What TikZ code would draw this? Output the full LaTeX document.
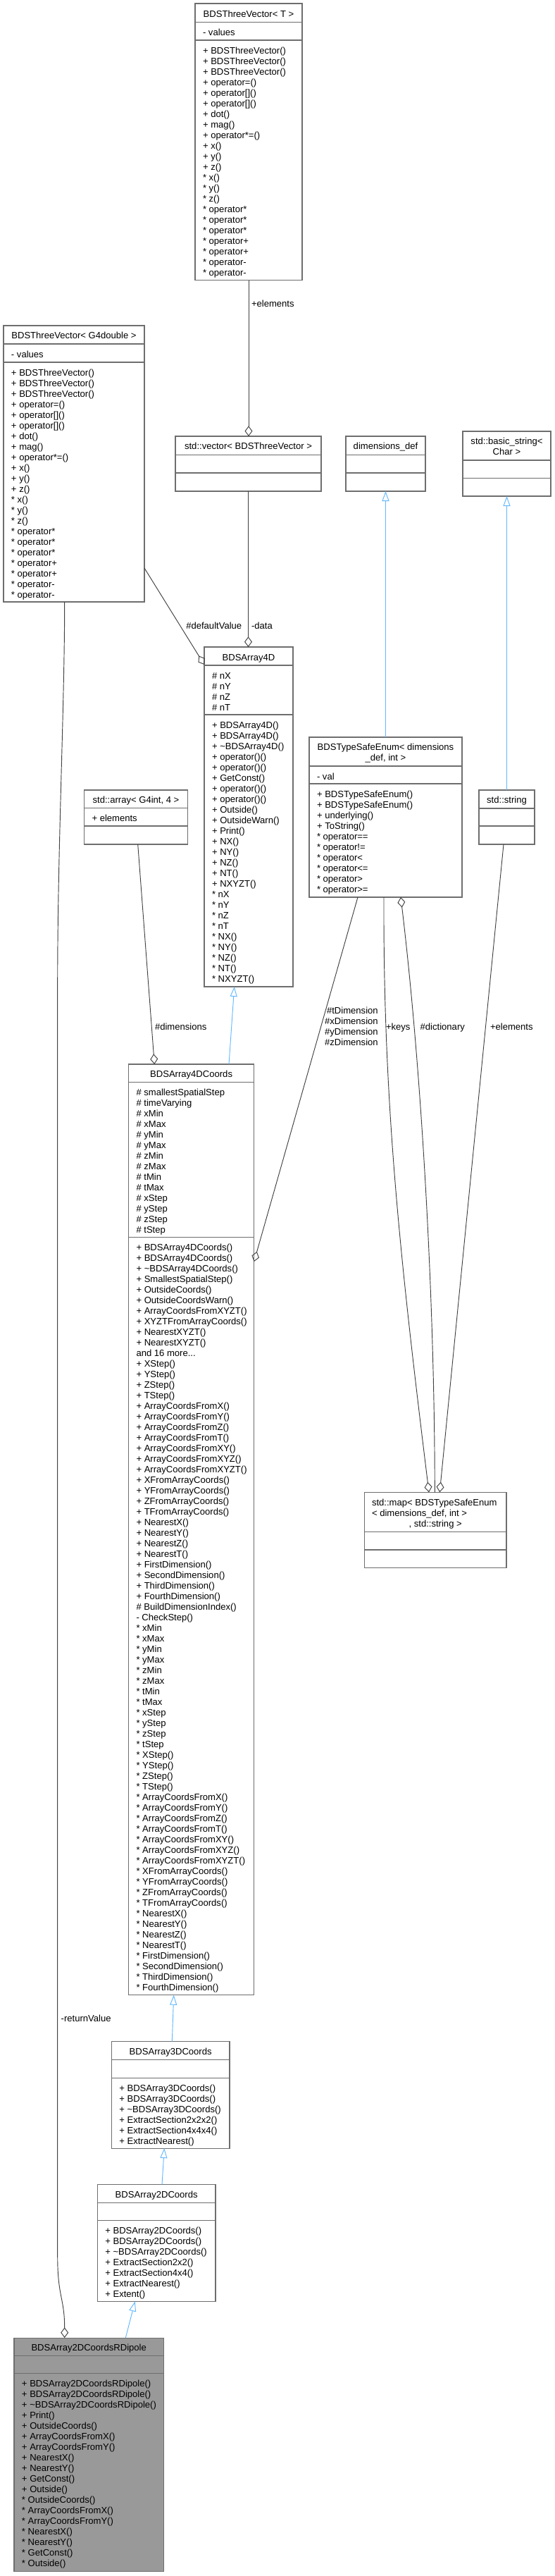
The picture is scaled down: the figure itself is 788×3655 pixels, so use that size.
\documentclass[tikz,border=0pt]{standalone}
\usepackage{fontspec}
\setmainfont{Liberation Sans}
\usetikzlibrary{arrows.meta,calc,fit}
\definecolor{boxgray}{HTML}{6E6E6E}
\definecolor{edgegray}{HTML}{404040}
\definecolor{inhblue}{HTML}{63B8FF}
\definecolor{leafgray}{HTML}{999999}
\newcommand\threedots{...}
\tikzset{
  cls/.style={draw=boxgray, line width=0.8pt, inner sep=0pt, outer sep=0pt},
  sepline/.style={draw=boxgray, line width=0.8pt},
  txt/.style={inner sep=0pt, outer sep=0pt, font=\fontsize{9.8}{11.25}\selectfont},
  agg/.style={draw=edgegray, line width=0.7pt, -{Diamond[open, length=11pt, width=8.2pt]}},
  inh/.style={draw=inhblue, line width=0.7pt, -{Triangle[open, length=10.5pt, width=7.5pt]}},
}
% #1 fill, #2 name, #3 x1, #4 x2, #5 top, #6 sep1, #7 sep2, #8 bottom
\newcommand\umlbox[8][white]{%
  \coordinate (#2-a) at (#3,#5);
  \coordinate (#2-b) at (#4,#8);
  \node[cls, fill=#1, fit=(#2-a)(#2-b)] (#2) {};
  \draw[sepline] (#3,#6) -- (#4,#6);
  \draw[sepline] (#3,#7) -- (#4,#7);
}
% #1 prefix, #2 x, #3 first baseline, #4 list
\newcommand\umllines[4]{%
  \foreach \mytext [count=\i from 0] in {#4} {%
    \node[txt, anchor=base west] (#1-\i) at (#2, #3+15*\i) {\mytext};
  }%
}
\begin{document}
\begin{tikzpicture}[x=0.75pt, y=-0.75pt]
\path[use as bounding box, fill=white] (0,0) rectangle (788,3655);

% ---------- BDSThreeVector< T >
\umlbox{TV}{277}{429}{5}{31.5}{57}{397.5}
\node[txt, anchor=base] (TV-t) at (353,24) {BDSThreeVector< T >};
\umllines{TV-a}{288}{50.5}{- values}
\umllines{TV-m}{288}{76}{+ BDSThreeVector(), + BDSThreeVector(), + BDSThreeVector(), + operator=(), + operator[](), + operator[](), + dot(), + mag(), + operator*=(), + x(), + y(), + z(), * x(), * y(), * z(), * operator*, * operator*, * operator*, * operator+, * operator+, * operator-, * operator-}

% ---------- BDSThreeVector< G4double >
\umlbox{TVG}{5}{205}{462}{488}{514}{854}
\node[txt, anchor=base] (TVG-t) at (105,480.8) {BDSThreeVector< G4double >};
\umllines{TVG-a}{16}{507}{- values}
\umllines{TVG-m}{16}{533}{+ BDSThreeVector(), + BDSThreeVector(), + BDSThreeVector(), + operator=(), + operator[](), + operator[](), + dot(), + mag(), + operator*=(), + x(), + y(), + z(), * x(), * y(), * z(), * operator*, * operator*, * operator*, * operator+, * operator+, * operator-, * operator-}

% ---------- std::vector< BDSThreeVector >
\umlbox{SV}{249}{456}{619}{645.5}{671}{697}
\node[txt, anchor=base] (SV-t) at (352.5,637.8) {std::vector< BDSThreeVector >};

% ---------- dimensions_def
\umlbox{DD}{491}{604}{619}{645.5}{671}{697}
\node[txt, anchor=base] (DD-t) at (547.5,637.8) {dimensions\_def};

% ---------- std::basic_string< Char >
\umlbox{BS}{657}{782}{612}{653}{678.5}{704}
\node[txt, anchor=base] (BS-t1) at (719.5,630.4) {std::basic\_string<};
\node[txt, anchor=base] (BS-t2) at (719.5,645.4) {Char >};

% ---------- BDSArray4D
\umlbox{A4}{290}{416}{918}{944}{1014}{1400}
\node[txt, anchor=base] (A4-t) at (353,937) {BDSArray4D};
\umllines{A4-a}{301}{963}{\# nX, \# nY, \# nZ, \# nT}
\umllines{A4-m}{301}{1033}{+ BDSArray4D(), + BDSArray4D(), + \textasciitilde BDSArray4D(), + operator()(), + operator()(), + GetConst(), + operator()(), + operator()(), + Outside(), + OutsideWarn(), + Print(), + NX(), + NY(), + NZ(), + NT(), + NXYZT(), * nX, * nY, * nZ, * nT, * NX(), * NY(), * NZ(), * NT(), * NXYZT()}

% ---------- std::array< G4int, 4 >
\umlbox{SA}{119.5}{266.5}{1121}{1146.5}{1172}{1198}
\node[txt, anchor=base] (SA-t) at (193,1139.8) {std::array< G4int, 4 >};
\node[txt, anchor=base west] (SA-a) at (130.5,1165.5) {+ elements};

% ---------- BDSTypeSafeEnum< dimensions_def, int >
\umlbox{TSE}{439}{656}{1046}{1087}{1112}{1273}
\node[txt, anchor=base] (TSE-t1) at (547.5,1064.7) {BDSTypeSafeEnum< dimensions};
\node[txt, anchor=base] (TSE-t2) at (547.5,1079.7) {\_def, int >};
\umllines{TSE-a}{450}{1106}{- val}
\umllines{TSE-m}{450}{1131}{+ BDSTypeSafeEnum(), + BDSTypeSafeEnum(), + underlying(), + ToString(), * operator==, * operator!=, * operator<, * operator<=, * operator>, * operator>=}

% ---------- std::string
\umlbox{SS}{680}{759}{1121}{1147}{1172}{1198}
\node[txt, anchor=base] (SS-t) at (719.5,1139.8) {std::string};

% ---------- BDSArray4DCoords
\umlbox{A4C}{182.5}{360.7}{1510}{1535.7}{1755.7}{2830.7}
\node[txt, anchor=base] (A4C-t) at (271.6,1528.5) {BDSArray4DCoords};
\umllines{A4C-a}{193.5}{1554.7}{\# smallestSpatialStep, \# timeVarying, \# xMin, \# xMax, \# yMin, \# yMax, \# zMin, \# zMax, \# tMin, \# tMax, \# xStep, \# yStep, \# zStep, \# tStep}
\umllines{A4C-m}{193.5}{1774.7}{+ BDSArray4DCoords(), + BDSArray4DCoords(), + \textasciitilde BDSArray4DCoords(), + SmallestSpatialStep(), + OutsideCoords(), + OutsideCoordsWarn(), + ArrayCoordsFromXYZT(), + XYZTFromArrayCoords(), + NearestXYZT(), + NearestXYZT(), and 16 more\threedots, + XStep(), + YStep(), + ZStep(), + TStep(), + ArrayCoordsFromX(), + ArrayCoordsFromY(), + ArrayCoordsFromZ(), + ArrayCoordsFromT(), + ArrayCoordsFromXY(), + ArrayCoordsFromXYZ(), + ArrayCoordsFromXYZT(), + XFromArrayCoords(), + YFromArrayCoords(), + ZFromArrayCoords(), + TFromArrayCoords(), + NearestX(), + NearestY(), + NearestZ(), + NearestT(), + FirstDimension(), + SecondDimension(), + ThirdDimension(), + FourthDimension(), \# BuildDimensionIndex(), - CheckStep(), * xMin, * xMax, * yMin, * yMax, * zMin, * zMax, * tMin, * tMax, * xStep, * yStep, * zStep, * tStep, * XStep(), * YStep(), * ZStep(), * TStep(), * ArrayCoordsFromX(), * ArrayCoordsFromY(), * ArrayCoordsFromZ(), * ArrayCoordsFromT(), * ArrayCoordsFromXY(), * ArrayCoordsFromXYZ(), * ArrayCoordsFromXYZT(), * XFromArrayCoords(), * YFromArrayCoords(), * ZFromArrayCoords(), * TFromArrayCoords(), * NearestX(), * NearestY(), * NearestZ(), * NearestT(), * FirstDimension(), * SecondDimension(), * ThirdDimension(), * FourthDimension()}

% ---------- std::map
\umlbox{SM}{517.3}{719}{2117.3}{2173.3}{2199}{2224.5}
\node[txt, anchor=base west] (SM-t1) at (528,2136.4) {std::map< BDSTypeSafeEnum};
\node[txt, anchor=base west] (SM-t2) at (528,2151.4) {< dimensions\_def, int >};
\node[txt, anchor=base] (SM-t3) at (618.2,2166.4) {, std::string >};

% ---------- BDSArray3DCoords
\umlbox{A3C}{158.3}{326}{2896.5}{2922.3}{2948.3}{3048}
\node[txt, anchor=base] (A3C-t) at (242.2,2915.3) {BDSArray3DCoords};
\umllines{A3C-m}{169.3}{2967.3}{+ BDSArray3DCoords(), + BDSArray3DCoords(), + \textasciitilde BDSArray3DCoords(), + ExtractSection2x2x2(), + ExtractSection4x4x4(), + ExtractNearest()}

% ---------- BDSArray2DCoords
\umlbox{A2C}{138.3}{306}{3099.5}{3125.3}{3150.3}{3265.5}
\node[txt, anchor=base] (A2C-t) at (222.2,3118.3) {BDSArray2DCoords};
\umllines{A2C-m}{149.3}{3169.3}{+ BDSArray2DCoords(), + BDSArray2DCoords(), + \textasciitilde BDSArray2DCoords(), + ExtractSection2x2(), + ExtractSection4x4(), + ExtractNearest(), + Extent()}

% ---------- BDSArray2DCoordsRDipole
\umlbox[leafgray]{RD}{20}{232.3}{3317}{3342}{3367.7}{3648}
\node[txt, anchor=base] (RD-t) at (126.2,3335.8) {BDSArray2DCoordsRDipole};
\umllines{RD-m}{31}{3386.7}{+ BDSArray2DCoordsRDipole(), + BDSArray2DCoordsRDipole(), + \textasciitilde BDSArray2DCoordsRDipole(), + Print(), + OutsideCoords(), + ArrayCoordsFromX(), + ArrayCoordsFromY(), + NearestX(), + NearestY(), + GetConst(), + Outside(), * OutsideCoords(), * ArrayCoordsFromX(), * ArrayCoordsFromY(), * NearestX(), * NearestY(), * GetConst(), * Outside()}

% ================= connectors
% +elements : BDSThreeVector<T> -> std::vector
\draw[agg] (TV.south) -- (TV.south |- SV.north);
\node[txt, anchor=base west] (L-el1) at (357,435.7) {+elements};
% -data : std::vector -> BDSArray4D
\draw[agg] (SV.south) -- (SV.south |- A4.north);
\node[txt, anchor=base west] (L-data) at (357,892) {-data};
% #defaultValue : BDSThreeVector<G4double> -> BDSArray4D
\draw[agg] ($(TVG.north east)+(0,344)$) -- ($(A4.north west)+(0,25)$);
\node[txt, anchor=base west] (L-def) at (264.3,892) {\#defaultValue};
% #dimensions : std::array -> BDSArray4DCoords
\draw[agg] ($(SA.south west)+(76.2,0)$) -- ($(A4C.north west)+(36.8,0)$);
\node[txt, anchor=base west] (L-dims) at (220,1461.4) {\#dimensions};
% inheritance BDSArray4DCoords -> BDSArray4D
\draw[inh] ($(A4C.north west)+(142.5,0)$) -- ($(A4.south west)+(42.7,0)$);
% inheritance BDSTypeSafeEnum -> dimensions_def
\draw[inh] (TSE.north) -- (TSE.north |- DD.south);
% inheritance std::string -> std::basic_string
\draw[inh] (SS.north) -- (SS.north |- BS.south);
% #t/x/y/zDimension : BDSTypeSafeEnum -> BDSArray4DCoords
\draw[agg] ($(TSE.south west)+(69,0)$) -- ($(A4C.north east)+(0,280)$);
\node[txt, anchor=base east] (L-td) at (536.7,1438) {\#tDimension};
\node[txt, anchor=base east] (L-xd) at (536.7,1453) {\#xDimension};
\node[txt, anchor=base east] (L-yd) at (536.7,1468) {\#yDimension};
\node[txt, anchor=base east] (L-zd) at (536.7,1483) {\#zDimension};
% +keys : BDSTypeSafeEnum -> std::map
\draw[agg] ($(TSE.south west)+(106,0)$) .. controls ($(TSE.south west)+(105,300)$) and ($(SM.north west)+(52.7,-317.3)$) .. ($(SM.north west)+(91.7,0)$);
\node[txt, anchor=base west] (L-keys) at (548,1461.4) {+keys};
% #dictionary : std::map -> BDSTypeSafeEnum
\draw[agg] ($(SM.north west)+(100,0)$) .. controls ($(SM.north west)+(100,-267)$) and ($(TSE.south west)+(160,250)$) .. ($(TSE.south west)+(130,0)$);
\node[txt, anchor=base west] (L-dict) at (596.7,1461.7) {\#dictionary};
% +elements : std::string -> std::map
\draw[agg] ($(SS.south west)+(35,0)$) -- ($(SM.north west)+(107,0)$);
\node[txt, anchor=base west] (L-el2) at (696,1461.7) {+elements};
% inheritance chain
\draw[inh] ($(A3C.north west)+(86,0)$) -- ($(A4C.south west)+(64.2,0)$);
\draw[inh] ($(A2C.north west)+(91.7,0)$) -- ($(A3C.south west)+(75,0)$);
\draw[inh] ($(RD.north west)+(158.3,0)$) -- ($(A2C.south west)+(53.4,0)$);
% -returnValue : BDSThreeVector<G4double> -> BDSArray2DCoordsRDipole
\draw[agg] ($(TVG.south west)+(86.7,0)$) .. controls ($(TVG.south west)+(86.7,150)$) and ($(TVG.south west)+(76.7,350)$) .. ($(TVG.south west)+(76.7,546)$) -- ($(RD.north west)+(61.7,-117)$) .. controls ($(RD.north west)+(61.7,-57)$) and ($(RD.north west)+(71.7,-57)$) .. ($(RD.north west)+(71.7,0)$);
\node[txt, anchor=base west] (L-ret) at (86.7,2868.7) {-returnValue};
\end{tikzpicture}
\end{document}
